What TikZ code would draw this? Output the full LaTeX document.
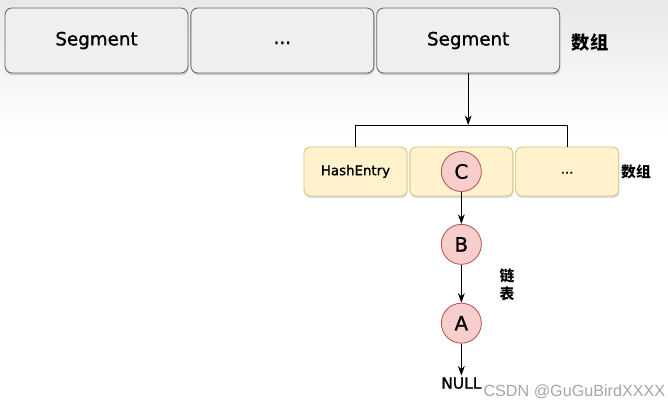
\documentclass[tikz,border=0pt]{standalone}
\usepackage{fontspec}
\setmainfont{DejaVu Sans}
\newfontfamily\medfont{DejaVu Sans}[FakeBold=1.2]
\newfontfamily\cjk{Noto Sans CJK SC}
\newfontfamily\wmfont{Liberation Sans}
\usetikzlibrary{arrows.meta,positioning,shadows}
\definecolor{segfill}{HTML}{EFEFEF}
\definecolor{segline}{HTML}{666666}
\definecolor{entryfill}{HTML}{FFF2CC}
\definecolor{entryline}{HTML}{D6C27A}
\definecolor{nodefill}{HTML}{F8CECC}
\definecolor{nodeline}{HTML}{B85450}

\begin{document}
\begin{tikzpicture}[>={Stealth[length=2.4mm,width=1.7mm]},line width=0.6pt,
    segbox/.style={draw=segline,fill=segfill,rounded corners=5pt,
      minimum width=4.575cm,minimum height=1.625cm,
      drop shadow={shadow xshift=0.5pt,shadow yshift=-1.5pt,fill=black!35},
      font=\medfont\fontsize{13}{15}\selectfont},
    entrybox/.style={draw=entryline,fill=entryfill,rounded corners=4pt,
      minimum width=2.575cm,minimum height=1.225cm,
      drop shadow={shadow xshift=0.5pt,shadow yshift=-1.5pt,fill=black!25},
      font=\medfont\fontsize{9.5}{11}\selectfont},
    listnode/.style={circle,draw=nodeline,fill=nodefill,minimum size=1cm,
      inner sep=0pt,font=\medfont\fontsize{14}{16}\selectfont},
    tag/.style={font=\cjk\bfseries\fontsize{10.5}{13}\selectfont}]
      % background
      \useasboundingbox (0,0) rectangle (16.7,-10.25);
      \shade[top color=black!9,bottom color=white] (0,0) rectangle (16.7,-3.3);
      \fill[white] (0,-3.3) rectangle (16.7,-10.25);

      % segment array
      \node (seg1)[segbox] at (2.4125,-1.0125) {\raisebox{-2pt}{Segment}};
      \node (seg2)[segbox] [right=0.05cm of seg1] {\raisebox{-5pt}{...}};
      \node (seg3)[segbox] [right=0.05cm of seg2] {\raisebox{-2pt}{Segment}};
      \node (segtag)[tag,font=\cjk\bfseries\fontsize{13}{15}\selectfont] at (14.75,-1.075) {数组};

      % hash entry array
      \node (h1)[entrybox] at (8.8875,-4.2875) {HashEntry};
      \node (h2)[entrybox] [right=0.05cm of h1] {};
      \node (h3)[entrybox] [right=0.05cm of h2] {\raisebox{-3pt}{...}};
      \node (htag)[tag] at (15.9,-4.3) {数组};

      % linked list
      \node (C)[listnode] at (h2) {C};
      \node (B)[listnode] [below=0.8cm of C] {B};
      \node (A)[listnode] [below=0.95cm of B] {A};
      \node (null)[font=\medfont\fontsize{11}{13}\selectfont,inner sep=1pt] [below=0.8cm of A] {NULL};
      \node (ltag)[tag,align=center] at (12.675,-7.12) {链\\[0pt]表};

      \coordinate (br) at (0,-3.125);
      \draw[->] (seg3.south) -- (seg3.south |- br);
      \draw (h1.north) -- (h1.north |- br) -- (h3.north |- br) -- (h3.north);
      \path[every edge/.style={draw,->}]
        (C) edge (B)
        (B) edge (A)
        (A) edge (null);

      % watermark
      \node (mark)[text=black!35,font=\wmfont\fontsize{11.5}{14}\selectfont] at (14.36,-9.8) {CSDN @GuGuBirdXXXX};
\end{tikzpicture}
\end{document}
